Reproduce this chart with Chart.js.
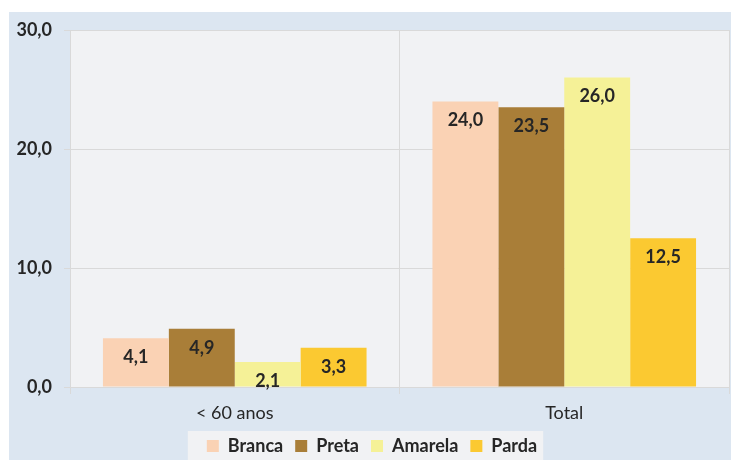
<!DOCTYPE html>
<html>
<head>
<meta charset="utf-8">
<script src="https://cdn.jsdelivr.net/npm/chart.js@4.4.0/dist/chart.umd.min.js"></script>
<style>
html, body { margin: 0; padding: 0; overflow: hidden; background: #fff; }
#box { position: absolute; left: 0; top: 0; width: 731px; height: 465px; }
</style>
</head>
<body>
<div id="box"><canvas id="chart"></canvas></div>
<script>
// data
var categories = ['< 60 anos', 'Total'];
var seriesNames = ['Branca', 'Preta', 'Amarela', 'Parda'];
var branca = [4.1, 24.0];
var preta = [4.9, 23.5];
var amarela = [2.1, 26.0];
var parda = [3.3, 12.5];
var seriesColors = ['#fad2b4', '#a97e38', '#f5f197', '#fbc931'];
var yMin = 0, yMax = 30, yStep = 10;

var fontFamily = "Lato, 'Open Sans', sans-serif";
var textColor = '#262626';
var gridColor = '#d9d9d9';

function fmt(v) {
    return v.toFixed(1).replace('.', ',');
}

var seriesValues = [branca, preta, amarela, parda];
var datasets = seriesNames.map(function (name, i) {
    return {
        label: name,
        data: seriesValues[i],
        backgroundColor: seriesColors[i],
        borderWidth: 0,
        barPercentage: 1.0,
        categoryPercentage: 0.8
    };
});

// backgrounds: outer blue panel, plot area, legend box
var backdrop = {
    id: 'backdrop',
    afterLayout: function (chart) {
        // legend sits a bit right of centre in the original
        chart.legend.left += 15;
    },
    beforeDraw: function (chart) {
        var ctx = chart.ctx, a = chart.chartArea;
        ctx.save();
        ctx.fillStyle = '#ffffff';
        ctx.fillRect(0, 0, chart.width, chart.height);
        ctx.fillStyle = '#dce6f1';
        ctx.fillRect(9, 12, chart.width - 9, chart.height - 12);
        ctx.fillStyle = '#f1f2f4';
        ctx.fillRect(a.left, a.top, a.right - a.left, a.bottom - a.top);
        var boxes = chart.legend && chart.legend.legendHitBoxes;
        if (boxes && boxes.length) {
            var first = boxes[0], last = boxes[boxes.length - 1];
            var x0 = first.left - 19, x1 = last.left + last.width + 6;
            ctx.fillRect(x0, 431, x1 - x0, chart.height);
        }
        ctx.restore();
    }
};

// value labels inside the top of each bar
var barLabels = {
    id: 'barLabels',
    afterDatasetsDraw: function (chart) {
        var ctx = chart.ctx;
        ctx.save();
        ctx.font = 'bold 18px ' + fontFamily;
        ctx.fillStyle = textColor;
        ctx.textAlign = 'center';
        ctx.textBaseline = 'middle';
        chart.data.datasets.forEach(function (ds, i) {
            var meta = chart.getDatasetMeta(i);
            meta.data.forEach(function (bar, j) {
                ctx.fillText(fmt(ds.data[j]), bar.x, bar.y + 19);
            });
        });
        ctx.restore();
    }
};

new Chart(document.getElementById('chart'), {
    type: 'bar',
    data: { labels: categories, datasets: datasets },
    options: {
        responsive: true,
        maintainAspectRatio: false,
        animation: false,
        layout: { padding: { left: 0, right: 2, top: 30, bottom: 0 } },
        plugins: {
            tooltip: { enabled: false },
            legend: {
                position: 'bottom',
                align: 'center',
                labels: {
                    boxWidth: 12,
                    boxHeight: 12,
                    padding: 12,
                    color: textColor,
                    font: { family: fontFamily, size: 18, weight: 'bold' }
                }
            }
        },
        scales: {
            x: {
                grid: { color: gridColor, tickLength: 7, offset: true },
                border: { color: gridColor },
                ticks: { color: textColor, padding: 8, font: { family: fontFamily, size: 18 } },
                afterFit: function (scale) { scale.height = 38; }
            },
            y: {
                min: yMin,
                max: yMax,
                grid: { color: gridColor, tickLength: 6 },
                border: { color: gridColor },
                ticks: {
                    stepSize: yStep,
                    padding: 12,
                    color: textColor,
                    font: { family: fontFamily, size: 18, weight: 'bold' },
                    callback: function (v) { return fmt(v); }
                },
                afterFit: function (scale) { scale.width = 70; }
            }
        }
    },
    plugins: [backdrop, barLabels]
});
</script>
</body>
</html>
